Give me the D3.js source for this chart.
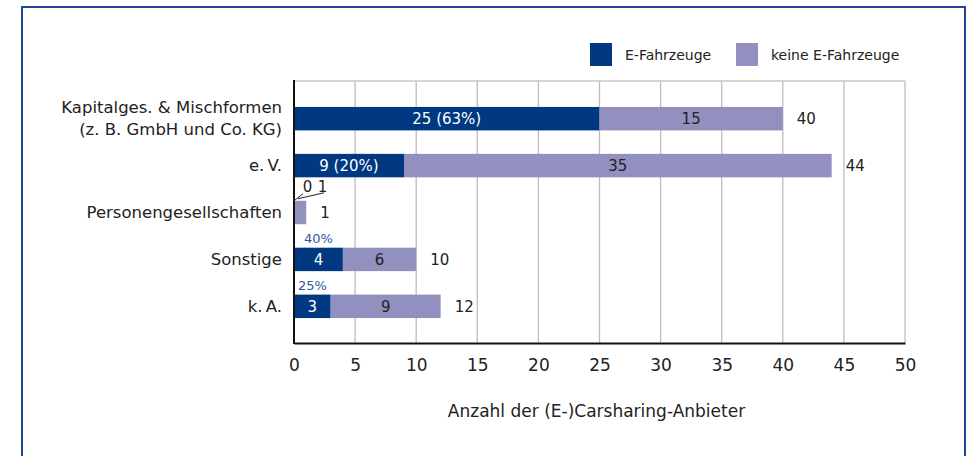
<!DOCTYPE html>
<html>
<head>
<meta charset="utf-8">
<script src="https://cdn.jsdelivr.net/npm/d3@7"></script>
<style>
  body { margin: 0; background: #fff; }
  svg text { font-family: "DejaVu Sans", sans-serif; }
</style>
</head>
<body>
<div id="chart"></div>
<script>
// data
var categories = ["Kapitalges. & Mischformen|(z. B. GmbH und Co. KG)", "e.\u2009V.", "Personengesellschaften", "Sonstige", "k.\u2009A."];
var eFahrzeuge = [25, 9, 0, 4, 3];
var keineE = [15, 35, 1, 6, 9];
var totals = [40, 44, 1, 10, 12];
var insideLabels = ["25 (63%)", "9 (20%)", "", "4", "3"];
var keineLabels = ["15", "35", "", "6", "9"];
var pctAbove = ["", "", "", "40%", "25%"];
var xTicks = [0, 5, 10, 15, 20, 25, 30, 35, 40, 45, 50];

var width = 973, height = 456;
var dark = "#003882", light = "#9190bf";

var svg = d3.select("#chart").append("svg")
    .attr("width", width)
    .attr("height", height);

// frame
svg.append("rect")
    .attr("x", 22).attr("y", 7)
    .attr("width", 943).attr("height", 470)
    .attr("fill", "none")
    .attr("stroke", "#1f4596")
    .attr("stroke-width", 2);

var x = d3.scaleLinear().domain([0, 50]).range([294, 905]);
var y = d3.scaleBand().domain(d3.range(categories.length)).range([83.5, 341.5]).paddingInner(0.5).paddingOuter(0.5);

// grid
svg.selectAll(".grid")
    .data(xTicks.slice(1))
    .enter().append("line")
    .attr("x1", function(d) { return x(d); })
    .attr("x2", function(d) { return x(d); })
    .attr("y1", 81).attr("y2", 343)
    .attr("stroke", "#bdbdbd").attr("stroke-width", 1.3);
svg.append("line")
    .attr("x1", x(0)).attr("x2", x(50))
    .attr("y1", 81).attr("y2", 81)
    .attr("stroke", "#c8c8c8").attr("stroke-width", 1.5);

// bars
var rows = svg.selectAll(".row")
    .data(categories)
    .enter().append("g")
    .attr("class", "row");

rows.append("rect")
    .attr("x", x(0))
    .attr("y", function(d, i) { return y(i); })
    .attr("width", function(d, i) { return x(eFahrzeuge[i]) - x(0); })
    .attr("height", y.bandwidth())
    .attr("fill", dark);

rows.append("rect")
    .attr("x", function(d, i) { return x(eFahrzeuge[i]); })
    .attr("y", function(d, i) { return y(i); })
    .attr("width", function(d, i) { return x(eFahrzeuge[i] + keineE[i]) - x(eFahrzeuge[i]); })
    .attr("height", y.bandwidth())
    .attr("fill", light);

rows.append("text")
    .attr("x", function(d, i) { return x(eFahrzeuge[i] / 2); })
    .attr("y", function(d, i) { return y(i) + y.bandwidth() / 2; })
    .attr("dy", "0.35em")
    .attr("text-anchor", "middle")
    .attr("fill", "#fff")
    .style("font-size", "15px")
    .text(function(d, i) { return insideLabels[i]; });

rows.append("text")
    .attr("x", function(d, i) { return x(eFahrzeuge[i] + keineE[i] / 2); })
    .attr("y", function(d, i) { return y(i) + y.bandwidth() / 2; })
    .attr("dy", "0.35em")
    .attr("text-anchor", "middle")
    .attr("fill", "#222")
    .style("font-size", "15px")
    .text(function(d, i) { return keineLabels[i]; });

rows.append("text")
    .attr("x", function(d, i) { return x(totals[i]) + 14; })
    .attr("y", function(d, i) { return y(i) + y.bandwidth() / 2; })
    .attr("dy", "0.35em")
    .attr("fill", "#222")
    .style("font-size", "15px")
    .text(function(d, i) { return totals[i]; });

rows.append("text")
    .attr("x", function(d, i) { return x(eFahrzeuge[i] / 2); })
    .attr("y", function(d, i) { return y(i) - 5; })
    .attr("text-anchor", "middle")
    .attr("fill", "#2c5aa0")
    .style("font-size", "13px")
    .text(function(d, i) { return pctAbove[i]; });

// leader labels for Personengesellschaften
var py = y(2);
svg.append("line").attr("x1", x(0)).attr("y1", py).attr("x2", x(0) + 9).attr("y2", py - 7)
    .attr("stroke", "#222").attr("stroke-width", 1);
svg.append("line").attr("x1", x(0) + 4).attr("y1", py - 2).attr("x2", x(0) + 30).attr("y2", py - 8)
    .attr("stroke", "#222").attr("stroke-width", 1);
svg.append("text").attr("x", x(0) + 13.5).attr("y", py - 9).attr("text-anchor", "middle")
    .style("font-size", "15px").attr("fill", "#222").text(eFahrzeuge[2]);
svg.append("text").attr("x", x(0) + 28.5).attr("y", py - 9).attr("text-anchor", "middle")
    .style("font-size", "15px").attr("fill", "#222").text(keineE[2]);

// category labels
rows.each(function(d, i) {
    var lines = d.split("|");
    var t = d3.select(this).append("text")
        .attr("text-anchor", "end")
        .attr("fill", "#222")
        .style("font-size", "16.5px");
    var cy = y(i) + y.bandwidth() / 2;
    lines.forEach(function(l, j) {
        t.append("tspan")
            .attr("x", 282)
            .attr("y", cy + (j - (lines.length - 1) / 2) * 22)
            .attr("dy", "0.35em")
            .text(l);
    });
});

// x axis
var xAxis = svg.append("g")
    .attr("transform", "translate(0,343)")
    .call(d3.axisBottom(x).tickValues(xTicks).tickSize(0).tickPadding(16));
xAxis.select(".domain").attr("stroke", "#111").attr("stroke-width", 2);
xAxis.selectAll("text").style("font-size", "17px").attr("fill", "#222")
    .style("font-family", "'DejaVu Sans', sans-serif");

// left axis line
svg.append("line")
    .attr("x1", x(0)).attr("x2", x(0))
    .attr("y1", 80).attr("y2", 344)
    .attr("stroke", "#111").attr("stroke-width", 2);

svg.append("text")
    .attr("x", x(25) - 3)
    .attr("y", 417)
    .attr("text-anchor", "middle")
    .attr("fill", "#222")
    .style("font-size", "17px")
    .text("Anzahl der (E-)Carsharing-Anbieter");

// legend
var legend = [{ label: "E-Fahrzeuge", color: dark, x: 590 }, { label: "keine E-Fahrzeuge", color: light, x: 736 }];
var lg = svg.selectAll(".legend")
    .data(legend)
    .enter().append("g")
    .attr("transform", function(d) { return "translate(" + d.x + ",43)"; });
lg.append("rect").attr("width", 22).attr("height", 23).attr("fill", function(d) { return d.color; });
lg.append("text").attr("x", 35).attr("y", 12).attr("dy", "0.35em")
    .style("font-size", "14px").attr("fill", "#222")
    .text(function(d) { return d.label; });
</script>
</body>
</html>
